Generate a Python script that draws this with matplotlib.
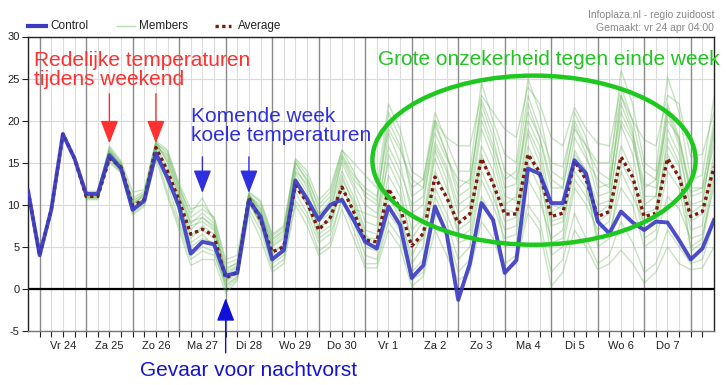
import numpy as np
import matplotlib
matplotlib.use("Agg")
import matplotlib.pyplot as plt
from matplotlib.patches import Ellipse
from matplotlib.lines import Line2D

plt.rcParams['font.family'] = ['Liberation Sans', 'DejaVu Sans']
plt.rcParams['axes.unicode_minus'] = False

# 6-hourly values, first point = do 23 18:00
control = [11.7, 4.0, 9.4, 18.4, 15.5, 11.3, 11.3, 15.9, 14.3,
           9.4, 10.5, 16.1, 13.2, 9.8, 4.2, 5.6, 5.3, 1.6, 1.9, 10.5, 8.6,
           3.5, 4.6, 12.9, 10.7, 8.2, 10.0, 10.6, 8.2, 5.6, 4.8, 9.8, 7.6,
           1.3, 2.8, 9.8, 6.6, -1.3, 3.0, 10.2, 8.2, 1.9, 3.4, 14.3, 13.7,
           10.2, 10.2, 15.3, 13.7, 8.0, 6.6, 9.2, 7.9, 7.0, 8.0, 7.9, 5.8,
           3.5, 4.8, 8.2]

average = [11.7, 4.0, 9.4, 18.4, 15.5, 11.0, 11.0, 15.5, 14.5,
           9.9, 10.6, 16.8, 14.0, 10.5, 6.5, 7.1, 6.3, 1.3, 2.0, 10.8, 8.2,
           4.4, 5.0, 12.3, 10.3, 7.0, 8.5, 12.1, 9.2, 5.8, 5.6, 11.9, 9.6,
           5.1, 6.6, 13.3, 10.9, 7.8, 8.9, 15.5, 12.5, 8.9, 8.9, 16.0, 13.9,
           8.6, 9.0, 15.2, 13.0, 8.6, 9.2, 15.7, 13.3, 8.6, 9.0, 15.5, 13.3,
           8.6, 9.2, 14.5]

members = [
    [11.7, 4.0, 9.4, 18.4, 15.5, 11.6, 11.6, 17.0, 15.2,
     11.5, 11.8, 17.6, 16.5, 12.5, 9.5, 10.0, 8.5, 3.5, 4.0, 11.5, 10.5,
     6.5, 7.5, 15.5, 14.0, 10.5, 12.0, 16.5, 15.0, 13.5, 12.0, 22.0, 19.0,
     14.0, 13.0, 20.0, 18.0, 17.0, 17.0, 23.0, 21.0, 19.0, 18.0, 24.0, 22.0,
     18.0, 17.0, 21.6, 19.0, 17.3, 17.0, 24.0, 20.0, 17.7, 17.0, 23.0, 22.0,
     15.7, 16.0, 21.0],
    [11.7, 4.0, 9.4, 18.4, 15.5, 10.6, 10.6, 15.0, 13.8,
     8.8, 9.8, 15.5, 11.0, 7.0, 2.8, 3.5, 3.5, -0.5, 1.0, 9.0, 6.0,
     2.0, 3.0, 10.0, 7.5, 4.0, 5.0, 9.5, 6.0, 2.5, 2.5, 7.0, 5.0,
     0.3, 1.5, 7.0, 4.0, 1.0, 2.0, 8.0, 6.0, 2.0, 3.0, 9.0, 7.0,
     0.3, 2.0, 7.0, 5.0, 2.3, 3.0, 4.6, 3.0, 0.7, 2.0, 5.0, 3.0,
     2.3, 2.5, 5.0],
    [11.7, 4.0, 9.4, 18.4, 15.5, 11.2, 11.0, 16.2, 14.8,
     10.2, 11.0, 17.2, 15.5, 11.5, 7.5, 8.0, 7.0, 1.5, 2.5, 11.0, 9.5,
     5.0, 6.0, 14.0, 12.5, 8.5, 10.0, 15.0, 12.0, 8.0, 7.5, 18.5, 15.0,
     9.0, 10.0, 19.5, 16.0, 11.0, 12.0, 22.0, 18.0, 12.0, 12.5, 20.0, 17.0,
     10.0, 9.5, 16.0, 14.0, 9.0, 10.0, 20.0, 17.5, 12.0, 13.0, 22.0, 18.0,
     11.0, 11.5, 17.0],
    [11.7, 4.0, 9.4, 18.4, 15.5, 10.8, 10.7, 15.4, 14.2,
     9.2, 10.2, 16.5, 13.5, 9.0, 5.0, 6.0, 5.5, 0.5, 1.5, 10.0, 8.0,
     3.5, 4.5, 11.5, 9.0, 5.5, 6.5, 10.5, 8.0, 4.0, 3.5, 9.0, 7.0,
     2.0, 3.5, 11.0, 8.0, 3.5, 5.0, 13.0, 10.0, 6.0, 6.5, 16.0, 13.0,
     7.5, 8.0, 14.0, 12.0, 6.0, 6.5, 12.0, 10.0, 5.0, 6.0, 11.0, 9.5,
     6.0, 6.5, 12.0],
    [11.7, 4.0, 9.4, 18.4, 15.5, 11.0, 11.2, 16.0, 14.5,
     9.8, 10.8, 17.0, 14.5, 10.5, 6.0, 7.5, 6.5, 1.0, 2.0, 11.2, 8.5,
     4.0, 5.5, 13.0, 11.0, 7.0, 8.5, 13.5, 10.0, 6.0, 6.0, 13.5, 11.0,
     6.0, 8.0, 15.5, 12.0, 8.0, 9.0, 17.0, 14.0, 9.5, 9.0, 18.5, 15.0,
     8.0, 8.5, 16.5, 14.0, 10.0, 10.5, 19.5, 16.0, 9.0, 9.5, 17.0, 14.5,
     8.0, 9.0, 16.0],
    [11.7, 4.0, 9.4, 18.4, 15.5, 11.4, 11.3, 16.5, 14.6,
     10.5, 11.4, 17.4, 16.0, 12.0, 9.0, 10.8, 8.0, 2.5, 3.0, 11.0, 10.0,
     6.0, 7.0, 15.0, 13.0, 10.0, 11.5, 16.5, 14.0, 11.0, 10.0, 20.0, 17.0,
     12.0, 13.0, 21.0, 17.5, 14.0, 14.0, 24.5, 20.0, 16.0, 15.0, 25.0, 21.0,
     14.0, 13.0, 21.0, 18.0, 12.0, 12.5, 21.0, 18.0, 11.0, 11.0, 19.0, 16.0,
     10.0, 10.5, 18.0],
    [11.7, 4.0, 9.4, 18.4, 15.5, 10.9, 10.9, 15.6, 14.0,
     9.4, 10.4, 16.4, 12.5, 8.0, 4.0, 5.0, 4.5, 0.0, 1.2, 10.5, 7.5,
     3.0, 4.0, 12.0, 10.0, 6.0, 7.0, 12.5, 9.0, 5.0, 4.5, 12.0, 9.0,
     3.0, 5.0, 14.0, 11.0, 7.0, 8.0, 15.5, 13.0, 8.0, 8.5, 15.0, 12.0,
     4.0, 5.0, 12.0, 10.0, 7.0, 8.0, 15.0, 12.5, 6.0, 7.0, 14.0, 12.0,
     5.0, 6.0, 14.0],
    [11.7, 4.0, 9.4, 18.4, 15.5, 11.1, 11.1, 16.6, 14.9,
     10.0, 11.2, 17.5, 15.0, 11.0, 7.0, 8.5, 7.5, 2.0, 2.8, 11.3, 9.0,
     5.5, 6.5, 14.5, 12.0, 9.0, 9.5, 14.0, 11.0, 7.0, 6.5, 16.0, 13.0,
     7.0, 8.5, 17.0, 14.0, 9.0, 10.0, 19.0, 15.5, 10.0, 11.0, 22.0, 18.0,
     12.0, 12.0, 19.5, 16.0, 11.0, 11.5, 23.0, 19.0, 10.0, 11.0, 21.0, 17.0,
     9.0, 10.0, 19.0],
    [11.7, 4.0, 9.4, 18.4, 15.5, 10.7, 10.8, 15.2, 13.9,
     9.0, 10.0, 16.0, 11.5, 7.5, 3.5, 4.5, 4.0, 0.8, 1.8, 9.5, 7.0,
     2.5, 3.5, 10.5, 8.5, 4.5, 5.5, 11.0, 7.0, 3.0, 3.0, 8.0, 6.0,
     1.0, 2.0, 9.0, 7.0, 2.0, 3.5, 11.0, 8.0, 3.0, 4.0, 10.0, 8.0,
     2.0, 3.5, 9.0, 6.0, 3.0, 4.0, 8.0, 5.5, 2.0, 3.0, 7.0, 5.0,
     3.0, 3.5, 8.0],
    [11.7, 4.0, 9.4, 18.4, 15.5, 11.3, 11.4, 16.8, 15.0,
     10.8, 11.6, 17.3, 16.3, 12.3, 8.5, 9.5, 8.5, 3.0, 3.5, 11.4, 10.3,
     6.3, 7.3, 15.3, 13.5, 9.5, 11.0, 16.0, 13.5, 12.0, 11.0, 19.0, 16.5,
     13.0, 12.0, 20.0, 16.0, 12.0, 13.0, 21.0, 17.0, 13.0, 14.0, 23.0, 19.0,
     15.0, 14.5, 20.0, 17.0, 14.0, 13.0, 26.0, 22.0, 15.0, 14.0, 25.2, 21.0,
     13.0, 13.5, 22.8],
    [11.7, 4.0, 9.4, 18.4, 15.5, 11.0, 10.9, 15.8, 14.4,
     9.6, 10.6, 16.8, 14.0, 10.0, 6.5, 7.0, 6.0, 1.2, 2.2, 10.8, 8.8,
     4.5, 5.0, 12.5, 10.5, 7.5, 8.0, 12.0, 9.5, 9.0, 8.5, 15.0, 12.0,
     5.0, 6.0, 12.0, 9.0, 5.5, 6.0, 14.0, 11.0, 7.0, 7.5, 17.0, 14.0,
     5.5, 6.0, 13.0, 11.0, 8.0, 9.0, 17.0, 14.0, 7.0, 8.0, 16.0, 13.0,
     7.0, 7.5, 15.0],
    [11.7, 4.0, 9.4, 18.4, 15.5, 11.2, 11.2, 16.3, 14.7,
     10.1, 11.1, 17.1, 15.2, 11.2, 7.8, 9.0, 7.8, 1.8, 2.6, 11.1, 9.2,
     5.2, 6.2, 13.8, 11.5, 8.0, 9.0, 15.5, 12.5, 10.0, 9.0, 17.0, 14.0,
     10.0, 11.0, 17.5, 14.5, 10.0, 11.0, 20.0, 16.5, 11.0, 10.5, 19.0, 16.0,
     9.0, 10.0, 18.0, 15.5, 13.0, 12.0, 22.0, 18.5, 12.5, 12.0, 21.5, 17.5,
     11.5, 12.0, 20.0],
    [11.7, 4.0, 9.4, 18.4, 15.5, 10.9, 11.0, 15.7, 14.1,
     9.3, 10.3, 16.2, 13.0, 9.5, 5.5, 6.5, 5.0, 0.3, 1.4, 10.2, 7.8,
     3.8, 4.8, 12.8, 10.0, 6.5, 7.5, 13.0, 10.5, 6.5, 5.0, 11.0, 8.5,
     4.0, 6.5, 16.5, 13.0, 6.0, 7.0, 16.0, 12.5, 5.0, 5.5, 13.0, 10.5,
     6.0, 7.0, 15.0, 13.0, 5.0, 6.0, 14.0, 11.0, 8.0, 8.5, 18.0, 15.0,
     4.5, 5.5, 13.0],
    [11.7, 4.0, 9.4, 18.4, 15.5, 11.3, 11.2, 16.4, 14.6,
     10.4, 11.3, 17.0, 15.8, 11.8, 8.0, 8.5, 7.2, 2.2, 3.2, 11.2, 9.6,
     5.8, 6.8, 15.0, 12.8, 8.8, 10.5, 15.8, 13.0, 11.5, 10.5, 21.0, 18.0,
     11.0, 12.0, 18.5, 15.5, 13.0, 12.5, 22.5, 19.0, 14.0, 13.0, 21.0, 18.0,
     13.0, 12.0, 19.0, 17.0, 15.0, 15.0, 23.0, 20.0, 14.0, 13.0, 20.0, 18.0,
     12.0, 12.0, 19.0],
]

day_labels = ["Vr 24", "Za 25", "Zo 26", "Ma 27", "Di 28", "Wo 29", "Do 30",
              "Vr 1", "Za 2", "Zo 3", "Ma 4", "Di 5", "Wo 6", "Do 7"]

W, H = 726, 385
fig = plt.figure(figsize=(W / 100, H / 100), dpi=100)


def fx(px):
    return px / W


def fy(py):
    return 1 - py / H


ax = fig.add_axes([fx(28), fy(331), fx(714) - fx(28), fy(36.5) - fy(331)])

# time axis in days, day 0 = vr 24 00:00
t = (np.arange(len(control)) * 6 - 6) / 24.0

# grid
for k in range(-1, 60):
    xv = k * 0.25
    if xv < -0.25 or xv > 14.5:
        continue
    if k % 4 == 0:
        ax.axvline(xv, color='#8a8a8a', lw=1.0, zorder=1)
    else:
        ax.axvline(xv, color='#dcdcdc', lw=0.8, zorder=0.5)
for yv in range(-5, 31, 5):
    ax.axhline(yv, color='#dadada', lw=0.8, zorder=0.5)
ax.axhline(0, color='black', lw=1.6, zorder=2)

for m in members:
    ax.plot(t, m, color='#6cb85e', lw=1.0, alpha=0.38, zorder=3)
ax.plot(t, average, color='#7a1a10', lw=2.4, linestyle=(0, (1.0, 1.0)), zorder=4)
ax.plot(t, control, color='#3a3ac4', lw=2.8, alpha=0.9, zorder=5,
        solid_joinstyle='round')

ax.set_xlim(-0.25, 14.5)
ax.set_ylim(-5, 30)
ax.set_yticks(range(-5, 31, 5))
ax.set_xticks([d + 0.5 for d in range(len(day_labels))])
ax.set_xticklabels(day_labels)
ax.set_xticks(np.arange(0, 14.5, 0.25), minor=True)
ax.tick_params(axis='both', which='both', labelsize=8, colors='#222222',
               length=4, width=0.8)
ax.tick_params(axis='x', which='major', length=4, pad=3)
ax.tick_params(axis='y', pad=2)
for s in ax.spines.values():
    s.set_color('#222222')
    s.set_linewidth(1.0)
ax.spines['bottom'].set_color('#777777')

# ellipse
ax.add_patch(Ellipse((10.63, 15.3), 6.95, 20.1, fill=False,
                     edgecolor='#1ec81e', lw=3.2, zorder=6))

# arrows
red = '#ff3030'
blue = '#2f2fe0'
head = '-|>,head_length=1.3,head_width=0.5'
for xa in (1.5, 2.5):
    ax.annotate('', xy=(xa, 17.3), xytext=(xa, 23.2),
                arrowprops=dict(arrowstyle=head, color=red, lw=1.0,
                                mutation_scale=11, shrinkA=0, shrinkB=0),
                zorder=7)
for xa in (3.5, 4.5):
    ax.annotate('', xy=(xa, 11.4), xytext=(xa, 15.7),
                arrowprops=dict(arrowstyle=head, color=blue, lw=1.0,
                                mutation_scale=11, shrinkA=0, shrinkB=0),
                zorder=7)
ax.annotate('', xy=(4.0, -1.1), xytext=(4.0, -7.6),
            arrowprops=dict(arrowstyle=head, color='#1010d8', lw=1.0,
                            mutation_scale=11, shrinkA=0, shrinkB=0),
            annotation_clip=False, zorder=7)

# annotations
fs = 15
fig.text(fx(34), fy(51), "Redelijke temperaturen\ntijdens weekend", color=red,
         fontsize=fs, va='top', ha='left', linespacing=1.0)
fig.text(fx(191), fy(107), "Komende week\nkoele temperaturen", color=blue,
         fontsize=fs, va='top', ha='left', linespacing=1.0)
fig.text(fx(378), fy(50), "Grote onzekerheid tegen einde week", color='#22c422',
         fontsize=fs, va='top', ha='left')
fig.text(fx(140), fy(370), "Gevaar voor nachtvorst", color='#1414d0',
         fontsize=fs, va='center', ha='left')

# legend
ly = fy(26)
fig.add_artist(Line2D([fx(28), fx(46)], [ly, ly], color='#3a3ac4', lw=3))
fig.text(fx(50), ly, "Control", fontsize=8.5, va='center', color='#222222')
fig.add_artist(Line2D([fx(117), fx(135)], [ly, ly], color='#b8dcb0', lw=1))
fig.text(fx(139), ly, "Members", fontsize=8.5, va='center', color='#222222')
fig.add_artist(Line2D([fx(215), fx(231)], [ly, ly], color='#7a1a10', lw=2.4,
                      linestyle=(0, (1.0, 1.0))))
fig.text(fx(238), ly, "Average", fontsize=8.5, va='center', color='#222222')

fig.text(fx(714), fy(15), "Infoplaza.nl - regio zuidoost", fontsize=7.5,
         ha='right', va='center', color='#888888')
fig.text(fx(714), fy(28), "Gemaakt: vr 24 apr 04:00", fontsize=7.5,
         ha='right', va='center', color='#888888')

fig.savefig("out.png", dpi=100)
